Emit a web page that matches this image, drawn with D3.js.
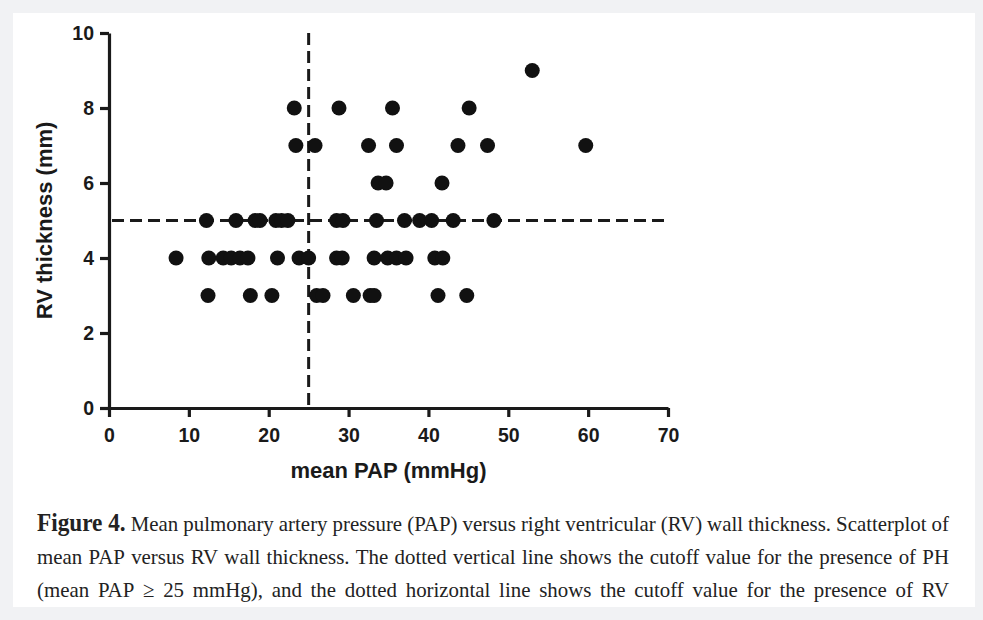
<html>
<head>
<meta charset="utf-8">
<script src="https://d3js.org/d3.v7.min.js"></script>
<style>
body {
	margin: 0;
	background: #f1f2f4;
}
.axis text {
	font-family: "Liberation Sans", Arial, sans-serif;
	font-weight: bold;
	font-size: 19.5px;
	fill: #1a1a1a;
}
.axis path, .axis line {
	stroke: #1a1a1a;
	stroke-width: 3.2;
}
</style>
</head>
<body>
<svg id="chart" width="983" height="620"></svg>
<script>

// mean PAP (mmHg) and RV thickness (mm) of each patient
var pap = [12.4, 17.7, 20.4, 26.0, 26.8, 30.6, 32.7, 33.2, 41.2, 44.8,
	8.4, 12.5, 14.3, 15.3, 16.4, 17.4, 21.1, 23.8, 25.0, 28.5, 29.2, 33.2, 34.9, 36.0, 37.2, 40.8, 41.8,
	12.2, 15.9, 18.3, 18.9, 20.9, 21.6, 22.4, 28.5, 29.3, 33.5, 37.0, 38.9, 40.4, 43.1, 48.2,
	33.7, 34.7, 41.7,
	23.4, 25.8, 32.5, 36.0, 43.7, 47.4, 59.7,
	23.2, 28.8, 35.5, 45.1,
	53.0]
var rv = [3, 3, 3, 3, 3, 3, 3, 3, 3, 3,
	4, 4, 4, 4, 4, 4, 4, 4, 4, 4, 4, 4, 4, 4, 4, 4, 4,
	5, 5, 5, 5, 5, 5, 5, 5, 5, 5, 5, 5, 5, 5, 5,
	6, 6, 6,
	7, 7, 7, 7, 7, 7, 7,
	8, 8, 8, 8,
	9]

var xTicks = [0, 10, 20, 30, 40, 50, 60, 70]
var yTicks = [0, 2, 4, 6, 8, 10]
var papCutoff = 25
var rvCutoff = 5

var captionBold = "Figure 4."
var captionLines = [
	"Mean pulmonary artery pressure (PAP) versus right ventricular (RV) wall thickness. Scatterplot of",
	"mean PAP versus RV wall thickness. The dotted vertical line shows the cutoff value for the presence of PH",
	"(mean PAP \u2265 25 mmHg), and the dotted horizontal line shows the cutoff value for the presence of RV"
]

var svg = d3.select("#chart")

svg.append("rect")
	.attr("x", 13).attr("y", 13)
	.attr("width", 962).attr("height", 594)
	.attr("fill", "#fff")

var x = d3.scaleLinear().domain([0, 70]).range([109, 668])
var y = d3.scaleLinear().domain([0, 10]).range([408, 33])

// cutoff lines
svg.append("line")
	.attr("x1", x(papCutoff)).attr("x2", x(papCutoff))
	.attr("y1", y(10)).attr("y2", y(0))
	.attr("stroke", "#1a1a1a").attr("stroke-width", 3)
	.attr("stroke-dasharray", "12,6")

svg.append("line")
	.attr("x1", x(0) + 3).attr("x2", x(70))
	.attr("y1", y(rvCutoff)).attr("y2", y(rvCutoff))
	.attr("stroke", "#1a1a1a").attr("stroke-width", 3)
	.attr("stroke-dasharray", "12,6")

// axes
svg.append("g")
	.attr("class", "axis")
	.attr("transform", `translate(0,${y(0)})`)
	.call(d3.axisBottom(x).tickValues(xTicks).tickSize(9).tickSizeOuter(0).tickPadding(11))

svg.append("g")
	.attr("class", "axis")
	.attr("transform", `translate(${x(0)},0)`)
	.call(d3.axisLeft(y).tickValues(yTicks).tickSize(9).tickSizeOuter(0).tickPadding(6))

// points
svg.selectAll("circle.pt")
	.data(pap)
	.enter().append("circle")
	.attr("class", "pt")
	.attr("cx", d => x(d))
	.attr("cy", (d, i) => y(rv[i]))
	.attr("r", 7.5)
	.attr("fill", "#111")

// axis titles
svg.append("text")
	.attr("x", (x(0) + x(70)) / 2)
	.attr("y", 478)
	.attr("text-anchor", "middle")
	.attr("font-family", "Liberation Sans, Arial, sans-serif")
	.attr("font-weight", "bold")
	.attr("font-size", 22)
	.attr("fill", "#1a1a1a")
	.text("mean PAP (mmHg)")

svg.append("text")
	.attr("transform", `translate(52,${(y(0) + y(10)) / 2}) rotate(-90)`)
	.attr("text-anchor", "middle")
	.attr("font-family", "Liberation Sans, Arial, sans-serif")
	.attr("font-weight", "bold")
	.attr("font-size", 22)
	.attr("fill", "#1a1a1a")
	.text("RV thickness (mm)")

// caption, justified line by line (condensed serif like the print)
var capLeft = 37, capRight = 949
var avail = capRight - capLeft
var minGap = 5
var rows = captionLines.map(function(line, li) {
	var g = svg.append("g")
		.attr("font-family", "Liberation Serif, Times New Roman, serif")
		.attr("fill", "#222")
	var items = []
	if (li == 0) items.push({t: captionBold, bold: true})
	line.split(" ").forEach(w => items.push({t: w, bold: false}))
	var nodes = items.map(function(it) {
		return g.append("text")
			.attr("y", 531 + li * 33)
			.attr("font-weight", it.bold ? "bold" : "normal")
			.attr("font-size", it.bold ? 24.5 : 22)
			.text(it.t)
	})
	var widths = nodes.map(n => n.node().getComputedTextLength())
	return {nodes: nodes, widths: widths, total: d3.sum(widths)}
})

// one horizontal squeeze for all lines, set by the tightest one
var sx = d3.min(rows, r => (avail - minGap * (r.nodes.length - 1)) / r.total)

rows.forEach(function(r) {
	var gap = (avail - r.total * sx) / (r.nodes.length - 1)
	var pos = capLeft
	r.nodes.forEach(function(n, i) {
		n.attr("transform", `translate(${pos},0) scale(${sx},1)`)
		pos += r.widths[i] * sx + gap
	})
})

</script>
</body>
</html>
